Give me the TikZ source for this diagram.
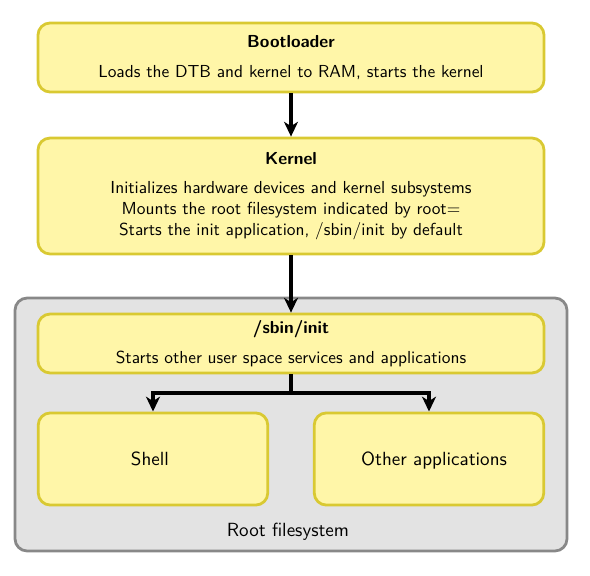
\documentclass[tikz,border=0pt]{standalone}
\usetikzlibrary{positioning,arrows.meta}
\definecolor{stagefill}{HTML}{FFF6A8}
\definecolor{stagedraw}{HTML}{D9C932}
\definecolor{rootfill}{HTML}{E3E3E3}
\definecolor{rootdraw}{HTML}{888888}
\tikzset{
  stage/.style={rectangle, rounded corners=7pt, draw=stagedraw, fill=stagefill,
    line width=1.6pt, align=center, font=\sffamily, inner sep=0pt,
    minimum width=291pt},
  app/.style={stage, minimum width=132pt, minimum height=53pt, text depth=-2pt,
    font=\sffamily\fontsize{10.95}{13.6}\selectfont},
  flow/.style={-{Stealth[length=8.5pt, width=8pt, inset=2.5pt]}, line width=1.9pt},
}
\begin{document}
\begin{tikzpicture}[x=0.575pt, y=-0.575pt]
\useasboundingbox (0,0) rectangle (590,575);
% root filesystem
\draw[rootdraw, fill=rootfill, line width=1.6pt, rounded corners=7pt] (15,298) rectangle (567,551);
\node (rootfs) [font=\sffamily\fontsize{10.95}{13.6}\selectfont] at (288,532) {Root filesystem};
% boot stages
\node (boot) [stage, minimum height=39.7pt] at (291,57.5)
  {\bfseries Bootloader\\[5pt]Loads the DTB and kernel to RAM, starts the kernel};
\node (kernel) [stage, minimum height=66.7pt] at (291,196)
  {\bfseries Kernel\\[5pt]Initializes hardware devices and kernel subsystems\\
   Mounts the root filesystem indicated by root=\\
   Starts the init application, /sbin/init by default};
\node (init) [stage, minimum height=33.9pt] at (291,343.5)
  {\bfseries /sbin/init\\[5pt]Starts other user space services and applications};
\node (shell) [app] at (153,459) {Shell\hspace*{3.5pt}};
\node (apps) [app] at (429,459) {\hspace*{5.8pt}Other applications};
\coordinate (fork) at (291,393);
\path[flow] (boot) edge (kernel)
            (kernel) edge (init);
\draw[flow] (init) -- (fork) -| (shell);
\draw[flow] (fork) -| (apps);
\end{tikzpicture}
\end{document}
